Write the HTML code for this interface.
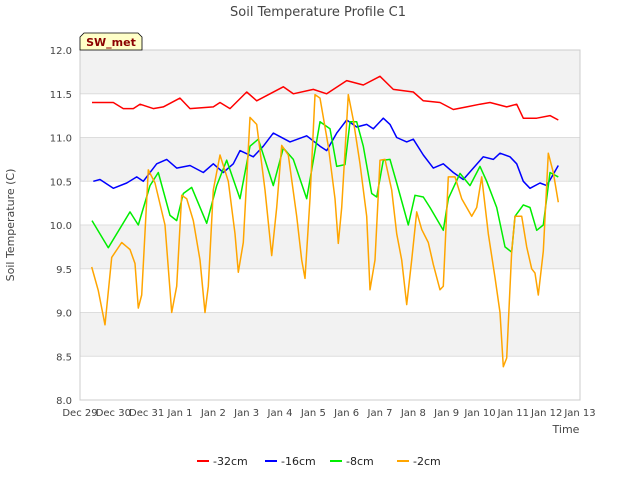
<!DOCTYPE html>
<html><head><meta charset="utf-8"><style>
body{margin:0;background:#fff;font-family:"Liberation Sans","DejaVu Sans",sans-serif}
svg text{font-family:"DejaVu Sans","Liberation Sans",sans-serif}
</style></head><body>
<svg id="c" width="640" height="480" xmlns="http://www.w3.org/2000/svg">
<text x="318" y="16" text-anchor="middle" font-size="13" fill="#444">Soil Temperature Profile C1</text>
<text x="14" y="225" text-anchor="middle" font-size="11" fill="#444" transform="rotate(-90 14 225)">Soil Temperature (C)</text>
<text x="566" y="433" text-anchor="middle" font-size="11" fill="#444">Time</text>
<g id="grid"></g><g id="series"></g>
<g>
<path d="M80,50 L80,37 L84,33 L138,33 L142,37 L142,50 Z" fill="#ffffc8" stroke="#000" stroke-width="0.8"/>
<text x="111" y="46" text-anchor="middle" font-size="11" font-weight="bold" fill="#8b0000">SW_met</text>
</g>
<g id="legend"></g>
</svg>
<script>
const xTickLabels=["Dec 29","Dec 30","Dec 31","Jan 1","Jan 2","Jan 3","Jan 4","Jan 5","Jan 6","Jan 7","Jan 8","Jan 9","Jan 10","Jan 11","Jan 12","Jan 13"];
const yTicks=[8.0,8.5,9.0,9.5,10.0,10.5,11.0,11.5,12.0];
const seriesNames=["-32cm","-16cm","-8cm","-2cm"];
const seriesColors=["#ff0000","#0000ff","#00ee00","#ffa500"];
const t32=[0.36,1,1.3,1.6,1.8,2.2,2.5,3.0,3.3,4.0,4.2,4.5,5.0,5.3,5.7,6.1,6.4,7.0,7.4,8.0,8.5,9.0,9.4,10.0,10.3,10.8,11.2,11.6,12.0,12.3,12.8,13.1,13.3,13.7,14.1,14.35];
const v32=[11.4,11.4,11.33,11.33,11.38,11.33,11.35,11.45,11.33,11.35,11.4,11.33,11.52,11.42,11.5,11.58,11.5,11.55,11.5,11.65,11.6,11.7,11.55,11.52,11.42,11.4,11.32,11.35,11.38,11.4,11.35,11.38,11.22,11.22,11.25,11.2];
const t16=[0.4,0.6,1.0,1.4,1.7,1.9,2.3,2.6,2.9,3.3,3.7,4.0,4.3,4.6,4.8,5.2,5.5,5.8,6.3,6.8,7.2,7.4,7.7,8.0,8.3,8.6,8.8,9.1,9.3,9.5,9.8,10.0,10.3,10.6,10.9,11.2,11.5,11.8,12.1,12.4,12.6,12.9,13.1,13.3,13.5,13.8,14.0,14.2,14.35];
const v16=[10.5,10.52,10.42,10.48,10.55,10.5,10.7,10.75,10.65,10.68,10.6,10.7,10.6,10.7,10.85,10.78,10.9,11.05,10.95,11.02,10.9,10.85,11.05,11.2,11.12,11.15,11.1,11.22,11.15,11.0,10.95,10.98,10.8,10.65,10.7,10.6,10.52,10.65,10.78,10.75,10.82,10.78,10.7,10.5,10.42,10.48,10.45,10.58,10.68];
const t8=[0.36,0.85,1.5,1.75,2.1,2.35,2.7,2.9,3.1,3.35,3.8,4.1,4.4,4.8,5.1,5.35,5.8,6.1,6.4,6.8,7.2,7.5,7.7,7.95,8.1,8.3,8.5,8.75,8.9,9.1,9.3,9.5,9.85,10.05,10.3,10.5,10.9,11.05,11.4,11.7,12.0,12.2,12.5,12.75,12.95,13.05,13.3,13.5,13.7,13.9,14.1,14.35];
const v8=[10.05,9.74,10.15,10.0,10.45,10.6,10.11,10.05,10.36,10.43,10.02,10.45,10.74,10.3,10.9,10.98,10.45,10.88,10.75,10.3,11.18,11.1,10.67,10.69,11.18,11.18,10.9,10.36,10.32,10.74,10.75,10.48,10.0,10.34,10.32,10.2,9.94,10.3,10.59,10.45,10.67,10.5,10.2,9.75,9.69,10.1,10.23,10.2,9.94,10.0,10.6,10.55];
const t2=[0.35,0.55,0.75,0.95,1.25,1.5,1.65,1.75,1.85,2.05,2.25,2.55,2.75,2.9,3.05,3.2,3.4,3.6,3.75,3.85,4.0,4.2,4.45,4.65,4.75,4.9,5.1,5.3,5.55,5.75,5.9,6.05,6.25,6.5,6.65,6.75,6.9,7.05,7.2,7.45,7.65,7.75,7.85,8.05,8.2,8.4,8.6,8.7,8.85,9.0,9.15,9.35,9.5,9.65,9.8,9.95,10.1,10.25,10.45,10.6,10.8,10.9,11.05,11.25,11.45,11.6,11.75,11.9,12.05,12.25,12.45,12.6,12.7,12.8,12.95,13.05,13.25,13.4,13.55,13.65,13.75,13.9,14.05,14.2,14.35];
const v2=[9.52,9.25,8.86,9.63,9.8,9.72,9.56,9.05,9.2,10.63,10.48,10.0,9.0,9.3,10.34,10.3,10.05,9.6,9.0,9.3,10.4,10.8,10.5,9.9,9.46,9.8,11.23,11.15,10.4,9.65,10.2,10.91,10.8,10.1,9.6,9.39,10.3,11.49,11.45,10.9,10.3,9.79,10.2,11.49,11.2,10.7,10.1,9.26,9.6,10.74,10.75,10.4,9.9,9.6,9.09,9.6,10.15,9.95,9.8,9.55,9.26,9.3,10.55,10.55,10.3,10.2,10.1,10.2,10.55,9.9,9.4,9.0,8.38,8.48,9.7,10.1,10.1,9.75,9.5,9.45,9.2,9.7,10.82,10.6,10.26];
const X0=80,X1=580,Y0=400,Y1=50;
const xs=d=>X0+d*(X1-X0)/15;
const ys=v=>Y0-(v-8)*(Y0-Y1)/4;
const NS="http://www.w3.org/2000/svg";
const grid=document.getElementById('grid');
function mk(tag,attrs,parent){const e=document.createElementNS(NS,tag);for(const k in attrs)e.setAttribute(k,attrs[k]);parent.appendChild(e);return e;}
for(let i=0;i<yTicks.length-1;i++){
  if(i%2===1){const r=mk('rect',{x:X0,y:ys(yTicks[i+1]),width:X1-X0,height:ys(yTicks[i])-ys(yTicks[i+1]),fill:'#f2f2f2'},grid);
  
  }
}
yTicks.forEach(v=>{
  const l=mk('line',{x1:X0,x2:X1,y1:ys(v),y2:ys(v),stroke:'#dddddd','stroke-width':1},grid);
  
  
  const t=mk('text',{x:X0-8,y:ys(v)+4,'text-anchor':'end','font-size':10,fill:'#444'},grid);
  t.textContent=v.toFixed(1);
  
  
});
mk('rect',{x:X0,y:Y1,width:X1-X0,height:Y0-Y1,fill:'none',stroke:'#cccccc'},grid);
xTickLabels.forEach((s,i)=>{
  const t=mk('text',{x:xs(i),y:Y0+16,'text-anchor':'middle','font-size':10,fill:'#444'},grid);
  t.textContent=s;
  
  
});
const ser=document.getElementById('series');
[[t32,v32],[t16,v16],[t8,v8],[t2,v2]].forEach((p,k)=>{
  const d=p[0].map((t,i)=>(i?'L':'M')+xs(t).toFixed(1)+','+ys(p[1][i]).toFixed(1)).join('');
  const pa=mk('path',{d:d,fill:'none',stroke:seriesColors[k],'stroke-width':1.5,'stroke-linejoin':'round'},ser);
  
  
});
const lg=document.getElementById('legend');
const lx=[197,265,330,397];
seriesNames.forEach((n,k)=>{
  const g=mk('g',{},lg);
  
  
  mk('line',{x1:lx[k],x2:lx[k]+12,y1:461,y2:461,stroke:seriesColors[k],'stroke-width':2},g);
  const t=mk('text',{x:lx[k]+16,y:465,'font-size':11,fill:'#222'},g);
  t.textContent=n;
});
</script>
</body></html>
